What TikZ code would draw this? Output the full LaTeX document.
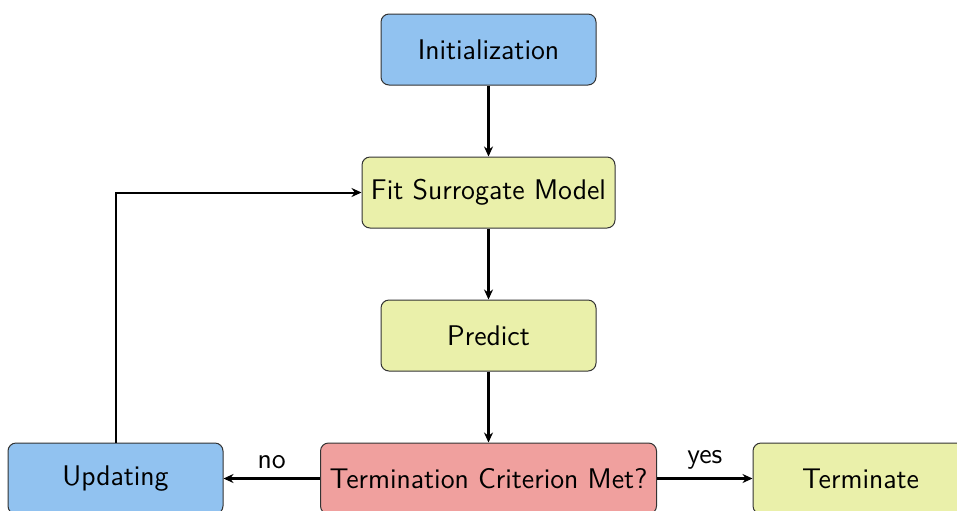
\documentclass[tikz,border=0pt]{standalone}
\usetikzlibrary{arrows.meta}
\definecolor{cblue}{RGB}{145,194,240}
\definecolor{cyel}{RGB}{234,240,170}
\definecolor{cred}{RGB}{240,160,158}
\begin{document}
\begin{tikzpicture}[x=0.5pt,y=-0.5pt,
  box/.style={draw=black!80, line width=0.5pt, rounded corners=4pt, minimum width=107.5pt, minimum height=35.5pt, inner sep=0pt, font=\sffamily\fontsize{14.2}{17}\selectfont},
  arr/.style={line width=1.5pt, -{Stealth[length=5pt,width=4.5pt]}},
  thinarr/.style={line width=1.0pt, -{Stealth[length=5pt,width=4.5pt]}},
  lbl/.style={font=\sffamily\fontsize{14.2}{17}\selectfont, inner sep=0pt}]
\useasboundingbox (0,0) rectangle (957,510);
\node[box, fill=cblue] (init) at (488.5,49.5) {Initialization};
\node[box, fill=cyel, minimum width=126.5pt] (fit) at (488.5,192.5) {Fit Surrogate Model};
\node[box, fill=cyel] (pred) at (488.5,335.5) {Predict};
\node[box, fill=cred, minimum width=168pt] (term) at (488.5,478.5) {Termination Criterion Met?};
\node[box, fill=cblue] (upd) at (115.5,478.5) {Updating};
\node[box, fill=cyel] (done) at (860.5,478.5) {Terminate};
\draw[arr] (init) -- (fit);
\draw[arr] (fit) -- (pred);
\draw[arr] (pred) -- (term);
\draw[arr] (term) -- node[lbl, above=4pt] {no} (upd);
\draw[arr] (term) -- node[lbl, above=4pt] {yes} (done);
\draw[thinarr] (upd.north) |- (fit.west);
\end{tikzpicture}
\end{document}
